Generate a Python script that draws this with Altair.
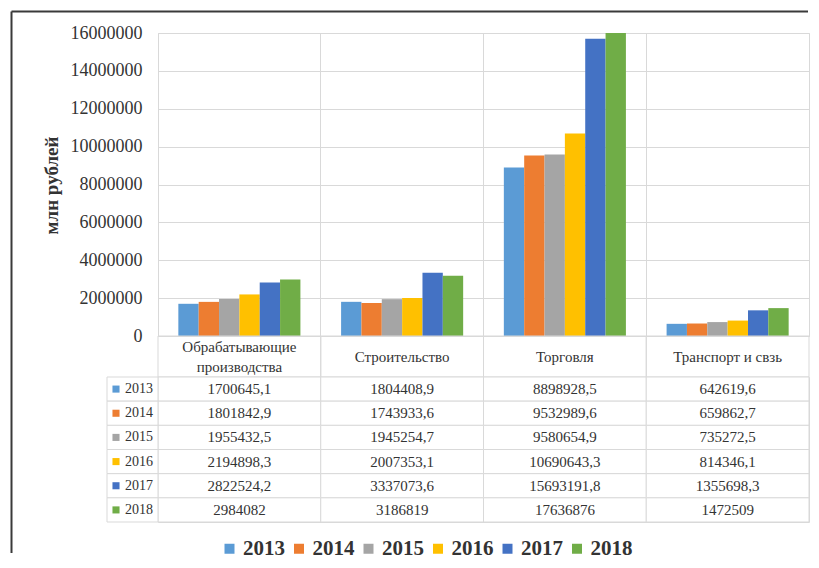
import altair as alt
import pandas as pd

categories = ["Обрабатывающие производства", "Строительство", "Торговля", "Транспорт и свзь"]
header_lines = [["Обрабатывающие", "производства"], ["Строительство"], ["Торговля"], ["Транспорт и свзь"]]
years = ["2013", "2014", "2015", "2016", "2017", "2018"]
colors = ["#5B9BD5", "#ED7D31", "#A5A5A5", "#FFC000", "#4472C4", "#70AD47"]

v2013 = ["1700645,1", "1804408,9", "8898928,5", "642619,6"]
v2014 = ["1801842,9", "1743933,6", "9532989,6", "659862,7"]
v2015 = ["1955432,5", "1945254,7", "9580654,9", "735272,5"]
v2016 = ["2194898,3", "2007353,1", "10690643,3", "814346,1"]
v2017 = ["2822524,2", "3337073,6", "15693191,8", "1355698,3"]
v2018 = ["2984082", "3186819", "17636876", "1472509"]
y_ticks = [0, 2000000, 4000000, 6000000, 8000000, 10000000, 12000000, 14000000, 16000000]

series = dict(zip(years, [v2013, v2014, v2015, v2016, v2017, v2018]))
rows = []
for yr in years:
    for cat, lab in zip(categories, series[yr]):
        rows.append({"cat": cat, "year": yr, "label": lab, "value": float(lab.replace(",", "."))})
df = pd.DataFrame(rows)
hdr = pd.DataFrame({"cat": categories, "lines": header_lines, "n": [len(l) for l in header_lines]})
yrs = pd.DataFrame({"year": years})
one = pd.DataFrame({"a": [0]})

SERIF = "Liberation Serif"
GRID = "#d9d9d9"
TXT = "#333333"
W, H = 651, 303

xscale = alt.Scale(domain=categories, paddingInner=0, paddingOuter=0)
color = alt.Color(
    "year:N",
    scale=alt.Scale(domain=years, range=colors),
    legend=alt.Legend(
        title=None, orient="none", direction="horizontal", legendX=61, legendY=505,
        symbolType="square", symbolSize=100, symbolStrokeWidth=0,
        labelFont=SERIF, labelFontSize=21, labelFontWeight="bold", labelColor=TXT,
        labelOffset=3, columnPadding=3.5,
    ),
)

bars = alt.Chart(df).mark_bar(clip=True).encode(
    x=alt.X(
        "cat:N", sort=categories, scale=xscale,
        axis=alt.Axis(
            title=None, bandPosition=0, grid=True, gridColor=GRID, ticks=False,
            domainColor=GRID, labels=False,
        ),
    ),
    xOffset=alt.XOffset("year:N", sort=years, scale=alt.Scale(domain=years, paddingInner=0, paddingOuter=1)),
    y=alt.Y(
        "value:Q", scale=alt.Scale(domain=[0, 16000000], nice=False),
        axis=alt.Axis(
            values=y_ticks, format="d", title="млн рублей", grid=True, gridColor=GRID,
            domain=False, ticks=False, labelPadding=16, labelFont=SERIF, labelFontSize=18,
            labelColor=TXT, titleFont=SERIF, titleFontSize=19, titleFontWeight="bold",
            titleColor=TXT, titleX=-107, titleY=152, titleAlign="center", titleBaseline="middle",
            titleAngle=270,
        ),
    ),
    color=color,
)

hx = alt.X("cat:N", sort=categories, scale=xscale)
hdr_cells = alt.Chart(hdr).mark_rect(fill="white", fillOpacity=0, stroke=GRID, strokeWidth=1).encode(
    x=hx, y=alt.value(H), y2=alt.value(H + 41),
)
hdr_one = alt.Chart(hdr).transform_filter("datum.n == 1").mark_text(
    font=SERIF, fontSize=15, color=TXT, baseline="middle"
).encode(x=hx, y=alt.value(H + 21), text="lines")
hdr_two = alt.Chart(hdr).transform_filter("datum.n == 2").mark_text(
    font=SERIF, fontSize=15, color=TXT, baseline="middle", lineHeight=20
).encode(x=hx, y=alt.value(H + 11), text="lines")

frame_left = alt.Chart(one).mark_rule(color="#3a3a3a", strokeWidth=2).encode(
    x=alt.value(-146.5), y=alt.value(-21.5), y2=alt.value(520)
)
frame_top = alt.Chart(one).mark_rule(color="#3a3a3a", strokeWidth=2).encode(
    x=alt.value(-146.5), x2=alt.value(650), y=alt.value(-21.5)
)

top = alt.layer(bars, hdr_cells, hdr_one, hdr_two, frame_left, frame_top).properties(width=W, height=H)

yscale_t = alt.Scale(domain=years, paddingInner=0, paddingOuter=0)
tx = alt.X("cat:N", sort=categories, scale=xscale, axis=None)
ty = alt.Y("year:N", sort=years, scale=yscale_t, axis=None)

cells = alt.Chart(df).mark_rect(fill="white", stroke=GRID, strokeWidth=1).encode(x=tx, y=ty)
vals = alt.Chart(df).mark_text(font=SERIF, fontSize=15, color=TXT).encode(x=tx, y=ty, text="label:N")
rh_cells = alt.Chart(yrs).mark_rect(fill="white", stroke=GRID, strokeWidth=1).encode(
    x=alt.value(-51), x2=alt.value(0), y=ty
)
rh_sq = alt.Chart(yrs).mark_square(size=50, opacity=1).encode(
    x=alt.value(-42), y=ty, color=alt.Color("year:N", scale=alt.Scale(domain=years, range=colors), legend=None)
)
rh_txt = alt.Chart(yrs).mark_text(font=SERIF, fontSize=14, color=TXT, align="right").encode(
    x=alt.value(-5), y=ty, text="year:N"
)
table = alt.layer(cells, vals, rh_cells, rh_sq, rh_txt).properties(width=W, height=145)

chart = alt.vconcat(top, table, spacing=41, bounds="flush").properties(
    padding={"left": 2, "top": 2, "right": 0, "bottom": 0}
).configure_view(stroke=GRID)

chart.save("out.html", embed_options={"renderer": "svg", "actions": False})
